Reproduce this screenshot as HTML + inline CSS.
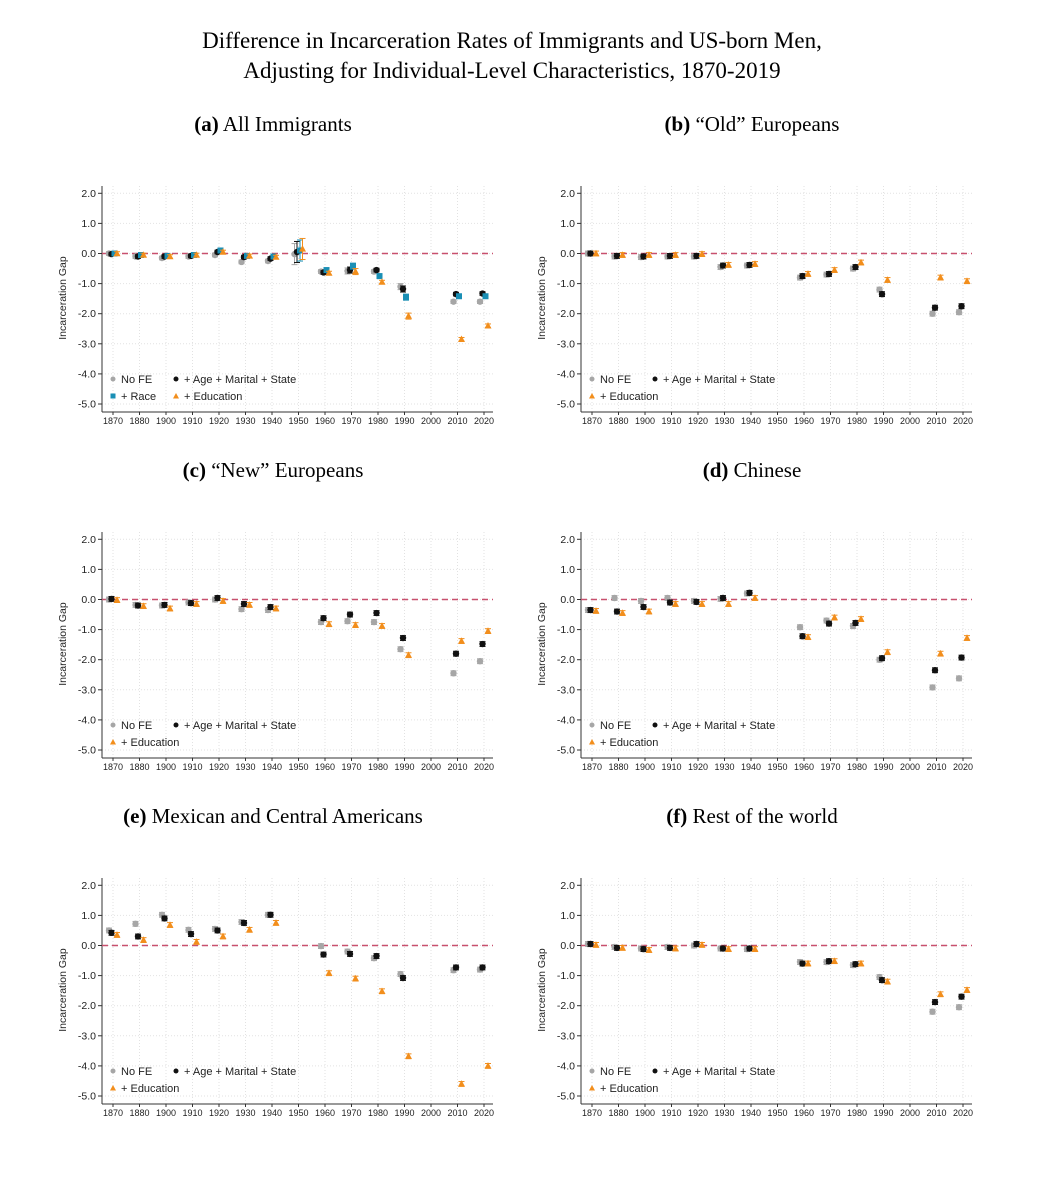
<!DOCTYPE html>
<html><head><meta charset="utf-8">
<style>
body{margin:0;background:#fff;}
svg{display:block;}
</style></head>
<body>
<svg id="chart" width="1045" height="1200" xmlns="http://www.w3.org/2000/svg">
<text x="512" y="48" text-anchor="middle" font-family="Liberation Serif, serif" font-size="23">Difference in Incarceration Rates of Immigrants and US-born Men,</text>
<text x="512" y="78" text-anchor="middle" font-family="Liberation Serif, serif" font-size="23">Adjusting for Individual-Level Characteristics, 1870-2019</text>
</svg>
<script>
const years=["1870","1880","1900","1910","1920","1930","1940","1950","1960","1970","1980","1990","2000","2010","2020"];
const yTicks=[2,1,0,-1,-2,-3,-4,-5];
const titles=[["(a)"," All Immigrants"],["(b)"," “Old” Europeans"],["(c)"," “New” Europeans"],["(d)"," Chinese"],["(e)"," Mexican and Central Americans"],["(f)"," Rest of the world"]];
const N=null;
const aNoFE=[0,-0.1,-0.15,-0.1,-0.05,-0.28,-0.25,-0.02,-0.6,-0.58,-0.6,-1.1,N,-1.6,-1.6];
const aAge=[-0.02,-0.1,-0.1,-0.08,0.05,-0.12,-0.17,0.05,-0.63,-0.55,-0.55,-1.18,N,-1.35,-1.33];
const aRace=[0,-0.05,-0.08,-0.05,0.1,-0.08,-0.1,0.1,-0.55,-0.42,-0.75,-1.45,N,-1.42,-1.42];
const aEdu=[0,-0.05,-0.1,-0.05,0.05,-0.08,-0.12,0.15,-0.65,-0.6,-0.95,-2.08,N,-2.85,-2.4];
const bNoFE=[0,-0.1,-0.12,-0.1,-0.1,-0.45,-0.4,N,-0.8,-0.7,-0.5,-1.2,N,-2.0,-1.95];
const bAge=[0,-0.08,-0.1,-0.08,-0.08,-0.4,-0.38,N,-0.75,-0.68,-0.45,-1.35,N,-1.8,-1.75];
const bEdu=[0,-0.05,-0.05,-0.05,-0.02,-0.38,-0.35,N,-0.68,-0.55,-0.3,-0.88,N,-0.8,-0.92];
const cNoFE=[0,-0.18,-0.2,-0.1,0,-0.32,-0.35,N,-0.75,-0.72,-0.75,-1.65,N,-2.45,-2.05];
const cAge=[0.02,-0.2,-0.18,-0.12,0.05,-0.15,-0.25,N,-0.62,-0.5,-0.45,-1.28,N,-1.8,-1.48];
const cEdu=[-0.02,-0.22,-0.3,-0.15,-0.05,-0.18,-0.3,N,-0.82,-0.85,-0.88,-1.85,N,-1.38,-1.05];
const dNoFE=[-0.35,0.05,-0.05,0.05,-0.05,0.02,0.2,N,-0.92,-0.7,-0.88,-2.0,N,-2.92,-2.62];
const dAge=[-0.35,-0.4,-0.25,-0.1,-0.08,0.05,0.22,N,-1.22,-0.8,-0.78,-1.95,N,-2.35,-1.93];
const dEdu=[-0.38,-0.45,-0.4,-0.15,-0.15,-0.15,0.05,N,-1.25,-0.6,-0.65,-1.75,N,-1.8,-1.28];
const eNoFE=[0.5,0.72,1.02,0.52,0.55,0.78,1.02,N,-0.02,-0.2,-0.42,-0.95,N,-0.82,-0.8];
const eAge=[0.42,0.3,0.9,0.38,0.5,0.75,1.02,N,-0.3,-0.28,-0.35,-1.08,N,-0.73,-0.73];
const eEdu=[0.35,0.18,0.68,0.12,0.3,0.52,0.75,N,-0.92,-1.1,-1.52,-3.68,N,-4.6,-4.0];
const fNoFE=[0.05,-0.05,-0.1,-0.05,0,-0.1,-0.12,N,-0.55,-0.55,-0.65,-1.05,N,-2.2,-2.05];
const fAge=[0.05,-0.08,-0.12,-0.08,0.05,-0.1,-0.1,N,-0.6,-0.52,-0.62,-1.15,N,-1.88,-1.7];
const fEdu=[0.02,-0.08,-0.15,-0.1,0.02,-0.12,-0.12,N,-0.6,-0.52,-0.6,-1.2,N,-1.62,-1.48];
const aErr=[0.06,0.06,0.06,0.06,0.06,0.06,0.06,0.35,0.06,0.1,0.06,0.1,N,0.06,0.06];

const panels=[
 {s:[aNoFE,aAge,aRace,aEdu],race:true},
 {s:[bNoFE,bAge,null,bEdu]},
 {s:[cNoFE,cAge,null,cEdu]},
 {s:[dNoFE,dAge,null,dEdu]},
 {s:[eNoFE,eAge,null,eEdu]},
 {s:[fNoFE,fAge,null,fEdu]}
];
const colors=["#a6a6a6","#111111","#1a8fb5","#f28e1c"];
const offs=[-4,-1.5,1.5,4];
const NS="http://www.w3.org/2000/svg";
const svg=document.getElementById('chart');
function mk(tag,attrs,parent){const e=document.createElementNS(NS,tag);for(const k in attrs)e.setAttribute(k,attrs[k]);(parent||svg).appendChild(e);return e;}

panels.forEach((p,pi)=>{
  const col=pi%2,row=Math.floor(pi/2);
  const dx=col*479, dy=row*346;
  const g=mk('g',{});
  
  
  const x0=113+dx, step=26.5;
  const xs=i=>x0+i*step;
  const ys=v=>253.5+dy-v*30.1;
  const L=102+dx,R=493+dx,T=186+dy,B=412+dy;
  const t=mk('text',{x:273+dx,y:131+dy,'text-anchor':'middle','font-family':'Liberation Serif, serif','font-size':'21'},g);
  
  
  const tb=mk('tspan',{'font-weight':'bold'},t);tb.textContent=titles[pi][0];
  const tn=mk('tspan',{},t);tn.textContent=titles[pi][1];
  years.forEach((y,i)=>{mk('line',{x1:xs(i),x2:xs(i),y1:T,y2:B,stroke:'#e2e2e2','stroke-dasharray':'1,2','stroke-width':1},g);});
  yTicks.forEach(v=>{mk('line',{x1:L,x2:R,y1:ys(v),y2:ys(v),stroke:'#e2e2e2','stroke-dasharray':'1,2','stroke-width':1},g);});
  mk('line',{x1:L,x2:L,y1:T,y2:B,stroke:'#333','stroke-width':1},g);
  mk('line',{x1:L,x2:R,y1:B,y2:B,stroke:'#333','stroke-width':1},g);
  yTicks.forEach(v=>{
    mk('line',{x1:L-4,x2:L,y1:ys(v),y2:ys(v),stroke:'#333'},g);
    const tx=mk('text',{x:L-6,y:ys(v)+3.5,'text-anchor':'end','font-family':'Liberation Sans, sans-serif','font-size':'10.5',fill:'#222'},g);
    
    
    tx.textContent=v.toFixed(1);
  });
  years.forEach((y,i)=>{
    mk('line',{x1:xs(i),x2:xs(i),y1:B,y2:B+3,stroke:'#333'},g);
    const tx=mk('text',{x:xs(i),y:B+12,'text-anchor':'middle','font-family':'Liberation Sans, sans-serif','font-size':'9',fill:'#222'},g);
    
    
    tx.textContent=y;
  });
  const yt=mk('text',{x:0,y:0,transform:`translate(${66+dx},${298+dy}) rotate(-90)`,'text-anchor':'middle','font-family':'Liberation Sans, sans-serif','font-size':'10.5',fill:'#222'},g);
  
  
  yt.textContent='Incarceration Gap';
  mk('line',{x1:L,x2:R,y1:ys(0),y2:ys(0),stroke:'#c8506e','stroke-width':1.5,'stroke-dasharray':'6,4'},g);
  p.s.forEach((arr,si)=>{
    if(!arr)return;
    arr.forEach((v,i)=>{
      if(v===null)return;
      const cx=xs(i)+offs[si], cy=ys(v);
      const e=(pi===0?aErr[i]:0.08)||0.06;
      mk('line',{x1:cx,x2:cx,y1:ys(v+e),y2:ys(v-e),stroke:colors[si],'stroke-width':1},g);
      mk('line',{x1:cx-3,x2:cx+3,y1:ys(v+e),y2:ys(v+e),stroke:colors[si]},g);
      mk('line',{x1:cx-3,x2:cx+3,y1:ys(v-e),y2:ys(v-e),stroke:colors[si]},g);
      let m;
      if(si===0||si===1) m=mk('circle',{cx:cx,cy:cy,r:3.2,fill:colors[si]},g);
      else if(si===2) m=mk('rect',{x:cx-3,y:cy-3,width:6,height:6,fill:colors[si]},g);
      else m=mk('polygon',{points:`${cx},${cy-3.8} ${cx+3.5},${cy+2.7} ${cx-3.5},${cy+2.7}`,fill:colors[si]},g);
      
      
    });
  });
  const leg=[[0,113,380,'No FE'],[1,176,380,'+ Age + Marital + State']];
  if(p.race){leg.push([2,113,397,'+ Race']);leg.push([3,176,397,'+ Education']);}
  else leg.push([3,113,397,'+ Education']);
  leg.forEach(([si,lx,ly,txt])=>{
    const X=lx+dx,Y=ly+dy;
    if(si<2) mk('circle',{cx:X,cy:Y-1,r:2.5,fill:colors[si]},g);
    else if(si===2) mk('rect',{x:X-2.5,y:Y-3.5,width:5,height:5,fill:colors[si]},g);
    else mk('polygon',{points:`${X},${Y-4} ${X+3},${Y+1.5} ${X-3},${Y+1.5}`,fill:colors[si]},g);
    const tx=mk('text',{x:X+8,y:Y+3,'font-family':'Liberation Sans, sans-serif','font-size':'11',fill:'#222'},g);
    
    
    tx.textContent=txt;
  });
});
</script>
</body></html>
